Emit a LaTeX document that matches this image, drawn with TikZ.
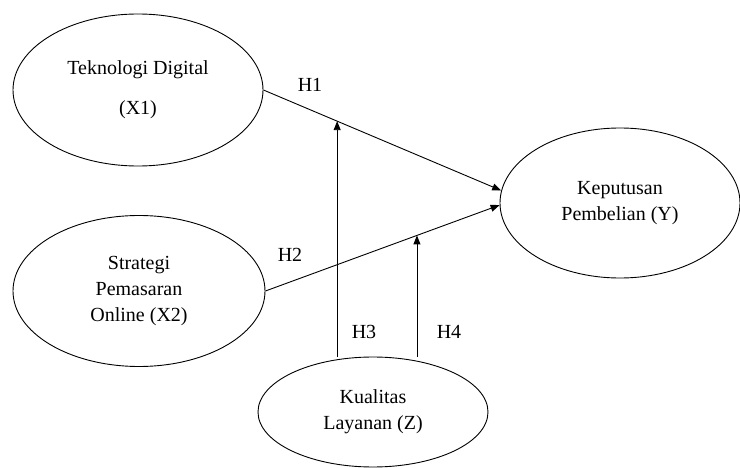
\documentclass[tikz,border=0pt]{standalone}
\usepackage{fontspec}
\setmainfont{Liberation Serif}
\usetikzlibrary{shapes.geometric,arrows.meta}
\begin{document}
\begin{tikzpicture}[x=1pt,y=-1pt,line width=0.9pt,
    var/.style={draw,ellipse,inner sep=0pt,align=center,font=\fontsize{20}{26}\selectfont},
    hyp/.style={font=\fontsize{20}{24}\selectfont},
    >={Triangle[length=9pt,width=7pt]}]
      \useasboundingbox (0,0) rectangle (740,468);
      \node[var,minimum width=250pt,minimum height=152pt] (X1) at (138,90) {Teknologi Digital\\[14pt](X1)};
      \node[var,minimum width=252pt,minimum height=151pt] (X2) at (139,291) {Strategi\\Pemasaran\\Online (X2)};
      \node[var,minimum width=240pt,minimum height=150pt] (Y) at (620,203) {Keputusan\\Pembelian (Y)};
      \node[var,minimum width=230pt,minimum height=110pt] (Z) at (373,412) {Kualitas\\Layanan (Z)};
      \draw [->] (X1.east) -- coordinate[pos=0.31] (m1) (Y.174);
      \draw [->] (X2.east) -- coordinate[pos=0.647] (m2) (Y.181);
      \draw [->] (m1 |- Z.north) -- (m1);
      \draw [->] (m2 |- Z.north) -- (m2);
      \node[hyp] (h1) at (310,85) {H1};
      \node[hyp] (h2) at (290,255) {H2};
      \node[hyp] (h3) at (364,332) {H3};
      \node[hyp] (h4) at (449,332) {H4};
    \end{tikzpicture}
\end{document}
